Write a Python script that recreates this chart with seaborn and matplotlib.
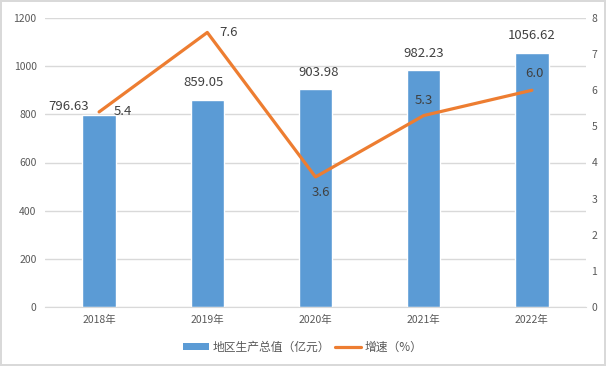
import numpy as np
import matplotlib
matplotlib.use("Agg")
import matplotlib.pyplot as plt
import seaborn as sns
from matplotlib.patches import Patch
from matplotlib.lines import Line2D

# chart data
years = ["2018年", "2019年", "2020年", "2021年", "2022年"]
gdp = [796.63, 859.05, 903.98, 982.23, 1056.62]
growth = [5.4, 7.6, 3.6, 5.3, 6.0]
gdp_name = "地区生产总值（亿元）"
growth_name = "增速（%）"

BAR = "#5B9BD5"
LINE = "#ED7D31"
GRID = "#D9D9D9"
TXT = "#404040"
TICK = "#595959"

sns.set_style("white")
plt.rcParams["font.family"] = ["Noto Sans CJK SC", "DejaVu Sans"]

fig = plt.figure(figsize=(6.06, 3.66), dpi=100)
fig.patch.set_edgecolor(GRID)
fig.patch.set_linewidth(1.5)
ax = fig.add_axes([45 / 606, 1 - 307 / 366, 541 / 606, 289 / 366])

# bars: GDP on the left axis
sns.barplot(x=years, y=gdp, color=BAR, width=0.31, saturation=1, ax=ax, zorder=2)
ax.set_xlim(-0.5, len(years) - 0.5)
ax.set_ylim(0, 1200)
ax.set_yticks(range(0, 1201, 200))
ax.yaxis.grid(True, color=GRID, linewidth=1)
ax.set_axisbelow(True)
ax.set_xlabel("")
ax.set_ylabel("")
for s in ["top", "left", "right"]:
    ax.spines[s].set_visible(False)
ax.spines["bottom"].set_color(GRID)
ax.tick_params(length=0, labelsize=7.5, labelcolor=TICK, pad=6)

# line: growth rate on the right axis
ax2 = ax.twinx()
sns.lineplot(x=np.arange(len(years)), y=growth, color=LINE, linewidth=2.3, ax=ax2)
ax2.set_xlim(-0.5, len(years) - 0.5)
ax2.set_ylim(0, 8)
ax2.set_yticks(range(0, 9))
ax2.grid(False)
for s in ax2.spines.values():
    s.set_visible(False)
ax2.tick_params(length=0, labelsize=7.5, labelcolor=TICK, pad=4)
ax2.set_ylabel("")

# data labels (offsets in points)
bar_off = [(-22, 6), (-3, 13), (2, 12), (0, 12.5), (0, 12.5)]
line_off = [(17, 0), (15, 0), (4, -11), (0, 11), (2, 12)]
for i, v in enumerate(gdp):
    ax.annotate(f"{v:.2f}", (i, v), xytext=bar_off[i], textcoords="offset points",
                ha="center", va="center", fontsize=9.5, color=TXT)
for i, v in enumerate(growth):
    ax2.annotate(f"{v:.1f}", (i, v), xytext=line_off[i], textcoords="offset points",
                 ha="center", va="center", fontsize=9.5, color=TXT)

handles = [Patch(facecolor=BAR, edgecolor="none", label=gdp_name),
           Line2D([0], [0], color=LINE, linewidth=2.3, label=growth_name)]
fig.legend(handles=handles, loc="center", bbox_to_anchor=(0.5, 1 - 347 / 366),
           ncol=2, frameon=False, fontsize=8.5, handlelength=2.2, handleheight=0.5,
           handletextpad=0.3, columnspacing=0.4, labelcolor=TICK)

fig.savefig("out.png", dpi=100)
